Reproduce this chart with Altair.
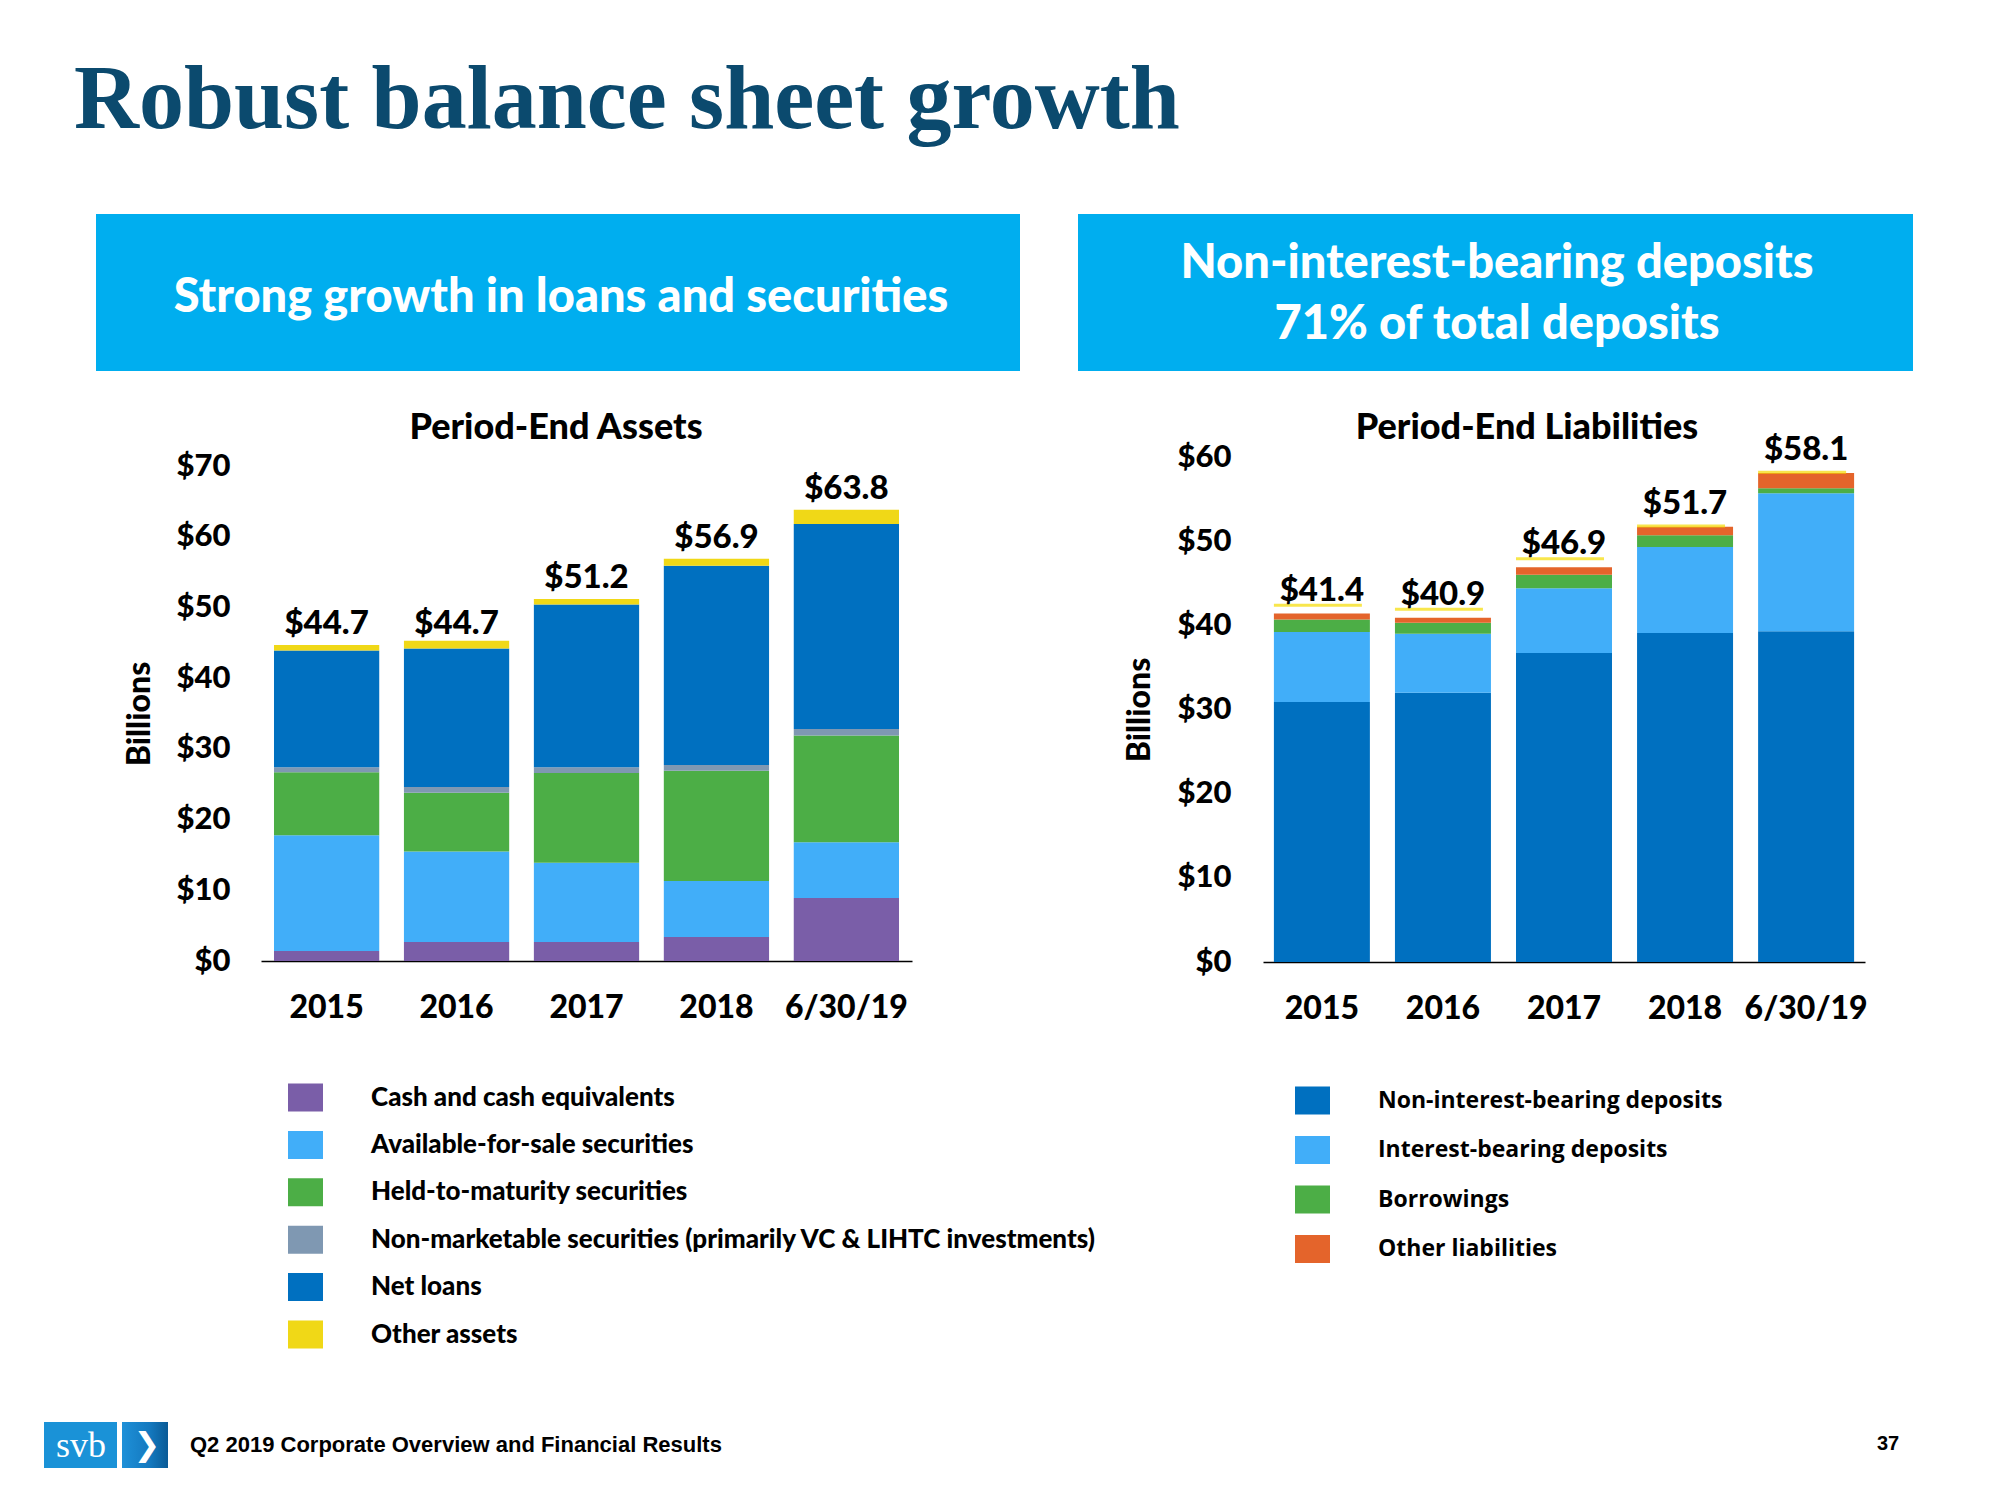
import altair as alt
import pandas as pd

# ---------------- data ----------------
years = ["2015", "2016", "2017", "2018", "6/30/19"]

asset_series = [
    "Cash and cash equivalents",
    "Available-for-sale securities",
    "Held-to-maturity securities",
    "Non-marketable securities (primarily VC & LIHTC investments)",
    "Net loans",
    "Other assets",
]
asset_colors = ["#7A5EA8", "#41AEF9", "#4CAE46", "#7F98B2", "#0070C0", "#F0D817"]
cash_equiv = [1.4, 2.7, 2.7, 3.4, 8.9]
afs_sec = [16.4, 12.8, 11.2, 7.9, 7.9]
htm_sec = [8.9, 8.3, 12.7, 15.6, 15.1]
nonmkt_sec = [0.7, 0.8, 0.8, 0.8, 0.9]
net_loans = [16.5, 19.6, 23.0, 28.2, 29.0]
other_assets = [0.8, 1.1, 0.8, 1.0, 2.0]
asset_totals = [44.7, 44.7, 51.2, 56.9, 63.8]
asset_total_labels = ["$44.7", "$44.7", "$51.2", "$56.9", "$63.8"]
asset_ticks = [0, 10, 20, 30, 40, 50, 60, 70]

liab_series = [
    "Non-interest-bearing deposits",
    "Interest-bearing deposits",
    "Borrowings",
    "Other liabilities",
]
liab_colors = ["#0070C0", "#41AEF9", "#4CAE46", "#E4642B"]
nib_dep = [30.9, 32.0, 36.7, 39.1, 39.3]
ib_dep = [8.3, 7.0, 7.7, 10.2, 16.4]
borrowings = [1.5, 1.3, 1.6, 1.4, 0.6]
other_liab = [0.7, 0.6, 0.9, 1.0, 1.8]
liab_totals = [41.4, 40.9, 46.9, 51.7, 58.1]
liab_total_labels = ["$41.4", "$40.9", "$46.9", "$51.7", "$58.1"]
liab_marker = [42.4, 41.9, 47.9, 51.8, 58.2]
liab_ticks = [0, 10, 20, 30, 40, 50, 60]

# ---------------- tables ----------------
def long_table(names, series_values):
    rows = []
    for i, (name, vals) in enumerate(zip(names, series_values)):
        for yr, v in zip(years, vals):
            rows.append({"year": yr, "series": name, "idx": i, "value": v})
    return pd.DataFrame(rows)

assets_df = long_table(asset_series, [cash_equiv, afs_sec, htm_sec, nonmkt_sec, net_loans, other_assets])
assets_tot = pd.DataFrame({"year": years, "total": asset_totals, "label": asset_total_labels})
liab_df = long_table(liab_series, [nib_dep, ib_dep, borrowings, other_liab])
liab_tot = pd.DataFrame({"year": years, "total": liab_totals, "label": liab_total_labels, "marker": liab_marker})

COND = "Lato, Roboto, sans-serif"
HEAVY = 900
W, H = 1984, 1484

def y_axis(offset, ticks, pad, tpad):
    return alt.Axis(orient="left", offset=offset, values=ticks, labelExpr="'$' + datum.value",
                    domain=False, ticks=False, grid=False, labelFont=COND, labelFontSize=31,
                    labelFontWeight=HEAVY, labelColor="black", labelPadding=pad,
                    title="Billions", titleFont=COND, titleFontSize=32, titleFontWeight=HEAVY,
                    titleColor="black", titlePadding=tpad)

def x_axis(offset):
    return alt.Axis(orient="bottom", offset=offset, domain=True, domainColor="black", domainWidth=1.5,
                    ticks=False, grid=False, labelAngle=0, labelFont=COND, labelFontSize=32,
                    labelFontWeight=HEAVY, labelColor="black", labelBaseline="alphabetic",
                    labelPadding=56, title=None)

def legend(lx, ly, font, size, rowpad, weight):
    return alt.Legend(orient="none", legendX=lx, legendY=ly, title=None, direction="vertical",
                      symbolType="M-1,-0.8H1V0.8H-1Z", symbolSize=1225, symbolStrokeWidth=0,
                      symbolOpacity=1, labelFont=font, labelFontSize=size, labelFontWeight=weight,
                      labelColor="black", labelOffset=48, labelLimit=0, rowPadding=rowpad, padding=0)

# ---------------- left chart ----------------
xs_l = alt.Scale(domain=years, range=[253, 904], paddingInner=0.19, paddingOuter=0.1)
ys_l = alt.Scale(domain=[0, 70], range=[953, 458], nice=False)

left_bars = alt.Chart(assets_df).mark_bar().encode(
    x=alt.X("year:N", scale=xs_l, axis=x_axis(953 - H)),
    y=alt.Y("value:Q", stack="zero", scale=ys_l, axis=y_axis(-253, asset_ticks, 31, 20)),
    color=alt.Color("series:N", scale=alt.Scale(domain=asset_series, range=asset_colors),
                    legend=legend(280, 1072, COND, 26, 15.4, HEAVY)),
    order=alt.Order("idx:Q", sort="ascending"),
)
left_labels = alt.Chart(assets_tot).mark_text(
    font=COND, fontSize=33, fontWeight=HEAVY, color="black", baseline="alphabetic", dy=-11
).encode(
    x=alt.X("year:N", scale=xs_l),
    y=alt.Y("total:Q", scale=ys_l),
    text="label:N",
)
left_chart = alt.layer(left_bars, left_labels)

# ---------------- right chart ----------------
xs_r = alt.Scale(domain=years, range=[1255, 1857], paddingInner=0.207, paddingOuter=0.09)
ys_r = alt.Scale(domain=[0, 60], range=[954, 449], nice=False)

right_bars = alt.Chart(liab_df).mark_bar().encode(
    x=alt.X("year:N", scale=xs_r, axis=x_axis(954 - H)),
    y=alt.Y("value:Q", stack="zero", scale=ys_r, axis=y_axis(-1255, liab_ticks, 32, 21)),
    color=alt.Color("series:N", scale=alt.Scale(domain=liab_series, range=liab_colors),
                    legend=legend(1287, 1075, "Open Sans, Lato, sans-serif", 23, 17.5, "bold")),
    order=alt.Order("idx:Q", sort="ascending"),
)
right_marks = alt.Chart(liab_tot).mark_tick(color="#F5DC00", thickness=3, size=88, xOffset=-4).encode(
    x=alt.X("year:N", scale=xs_r),
    y=alt.Y("marker:Q", scale=ys_r),
)
right_labels = alt.Chart(liab_tot).mark_text(
    font=COND, fontSize=33, fontWeight=HEAVY, color="black", baseline="alphabetic", dy=-13
).encode(
    x=alt.X("year:N", scale=xs_r),
    y=alt.Y("total:Q", scale=ys_r),
    text="label:N",
)
right_chart = alt.layer(right_bars, right_marks, right_labels)

# ---------------- slide decoration ----------------
one = pd.DataFrame({"k": [0]})

def box(x1, x2, y1, y2, color):
    return alt.Chart(one).mark_rect(color=color).encode(
        x=alt.value(x1), x2=alt.value(x2), y=alt.value(y1), y2=alt.value(y2))

def label(txt, x, y, font, size, color="black", align="center", baseline="alphabetic", weight=HEAVY):
    return alt.Chart(one).mark_text(text=txt, font=font, fontSize=size, fontWeight=weight, color=color,
                                    align=align, baseline=baseline).encode(x=alt.value(x), y=alt.value(y))

CYAN = "#00AEEF"
decor = [
    box(88, 1012, 206, 363, CYAN),
    box(1070, 1905, 206, 363, CYAN),
    box(36, 109, 1414, 1460, "#1A92D7"),
    alt.Chart(one).mark_rect(
        color=alt.Gradient(gradient="linear", x1=0, y1=0, x2=1, y2=0,
                           stops=[alt.GradientStop(offset=0, color="#1E90D8"),
                                  alt.GradientStop(offset=0.6, color="#1479BF"),
                                  alt.GradientStop(offset=1, color="#0A5A96")])
    ).encode(x=alt.value(114), x2=alt.value(160), y=alt.value(1414), y2=alt.value(1460)),
    label("Robust balance sheet growth", 66, 120, "Liberation Serif, DejaVu Serif, serif", 90,
          color="#0B4A6E", align="left", weight="bold"),
    label("Strong growth in loans and securities", 553, 304, COND, 47, color="white"),
    label("Non-interest-bearing deposits", 1489, 270, COND, 47, color="white"),
    label("71% of total deposits", 1489, 331, COND, 47, color="white"),
    label("Period-End Assets", 548, 431, COND, 36),
    label("Period-End Liabilities", 1519, 431, COND, 36),
    label("svb", 73, 1449, "Liberation Serif, DejaVu Serif, serif", 36, color="white", weight="normal"),
    label("\u276F", 139, 1437, "DejaVu Sans, sans-serif", 32, color="white", baseline="middle",
          weight="bold"),
    label("Q2 2019 Corporate Overview and Financial Results", 182, 1437,
          "Liberation Sans, Arial, sans-serif", 22, align="left", baseline="middle", weight="bold"),
    label("37", 1880, 1436, "Liberation Sans, Arial, sans-serif", 20, baseline="middle", weight="bold"),
]

chart = alt.layer(*decor, left_chart, right_chart).resolve_scale(
    x="independent", y="independent", color="independent"
).properties(
    width=W, height=H, autosize=alt.AutoSizeParams(type="none"), padding=0, background="white"
).configure_view(strokeWidth=0)

chart.save("out.html", embed_options={"renderer": "svg", "actions": False})
